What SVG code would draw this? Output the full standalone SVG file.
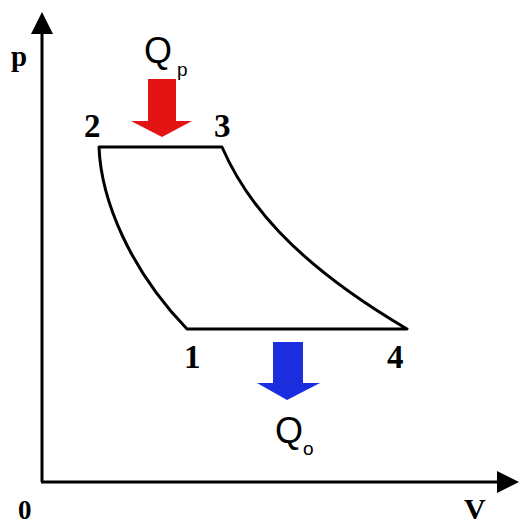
<svg xmlns="http://www.w3.org/2000/svg" width="520" height="524" viewBox="0 0 520 524">
<style>
.ax{stroke:#000;stroke-width:3;fill:none}
.cy{stroke:#000;stroke-width:3;fill:none;stroke-linejoin:round}
.lbl{font-family:"Liberation Serif",serif;font-weight:bold;fill:#000}
.q{font-family:"Liberation Sans",Arial,sans-serif;fill:#000}
</style>
<rect width="520" height="524" fill="#fff"/>
<g id="axes">
<line class="ax" x1="42" y1="482" x2="42" y2="30"/>
<polygon points="42,12 31,34 53,34" fill="#000"/>
<line class="ax" x1="41" y1="482" x2="500" y2="482"/>
<polygon points="519,482 497,471 497,493" fill="#000"/>
<text class="lbl" x="11" y="66" font-size="29">p</text>
<text class="lbl" x="18" y="519" font-size="27">0</text>
<text class="lbl" x="464" y="519" font-size="30">V</text>
</g>
<g id="cycle">
<path class="cy" d="M99,147 L222,147 C245,200 290,260 407,329 L187,329 C130,270 101,200 99,147 Z"/>
</g>
<g id="n2"><text class="lbl" x="84" y="137" font-size="33">2</text></g>
<g id="n3"><text class="lbl" x="214" y="137" font-size="33">3</text></g>
<g id="n1"><text class="lbl" x="184" y="368" font-size="33">1</text></g>
<g id="n4"><text class="lbl" x="387" y="368" font-size="33">4</text></g>
<g id="qp">
<polygon points="148,79 176,79 176,121 192,121 162,137 131,121 148,121" fill="#e31414"/>
<text class="q" x="144" y="63" font-size="36">Q</text>
<text class="q" x="177" y="76" font-size="19">p</text>
</g>
<g id="qo">
<polygon points="273,342 303,342 303,383 320,383 287,400 257,383 273,383" fill="#1a2ee0"/>
<text class="q" x="275" y="443" font-size="36">Q</text>
<text class="q" x="303" y="455" font-size="19">o</text>
</g>
</svg>
